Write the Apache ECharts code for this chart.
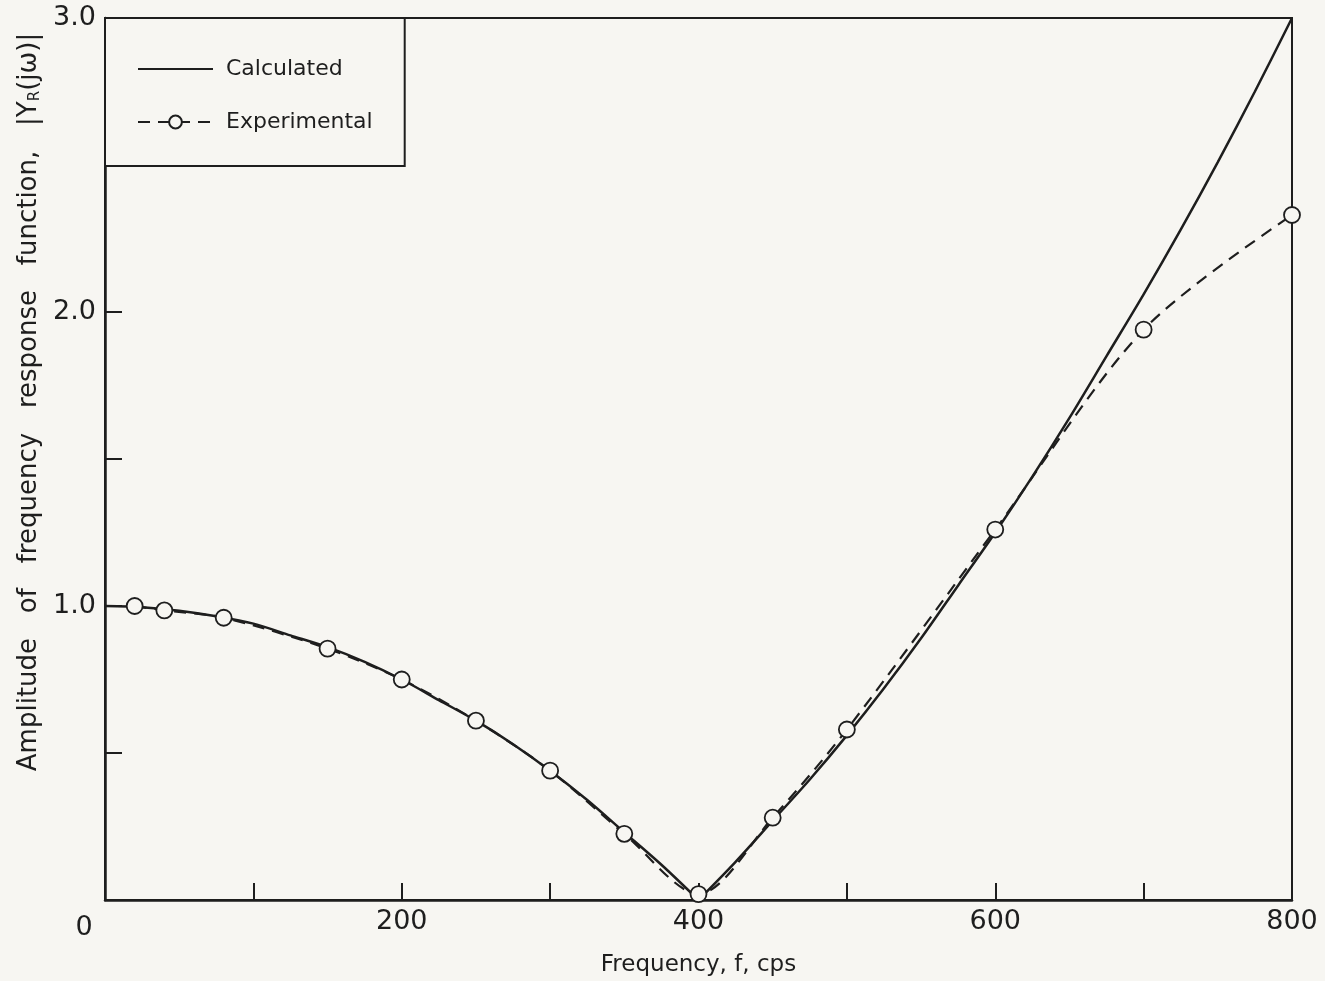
<!DOCTYPE html>
<html>
<head>
<meta charset="utf-8">
<script src="https://cdn.jsdelivr.net/npm/echarts@6/dist/echarts.min.js"></script>
<style>
html,body{margin:0;padding:0;background:#f7f6f2;}
#c{width:1325px;height:981px;}
</style>
</head>
<body>
<div id="c"></div>
<script>
// Calculated curve (two branches meeting at the dip)
var calcFreqLow  = [0,25,50,75,100,125,150,175,200,225,250,275,300,325,350,375,400];
var calcAmpLow   = [1.0,0.996,0.984,0.965,0.94,0.90,0.86,0.81,0.75,0.68,0.61,0.53,0.44,0.34,0.23,0.12,0.0];
var calcFreqHigh = [400,425,450,475,500,525,550,575,600,625,650,675,700,725,750,775,800];
var calcAmpHigh  = [0.0,0.13,0.27,0.41,0.56,0.72,0.89,1.07,1.25,1.44,1.64,1.85,2.06,2.28,2.51,2.75,3.0];
// Experimental points
var expFreq = [20,40,80,150,200,250,300,350,400,450,500,600,700,800];
var expAmp  = [1.0,0.985,0.96,0.855,0.75,0.61,0.44,0.225,0.02,0.28,0.58,1.26,1.94,2.33];
// Tick labels
var xTickLabels = ['0','200','400','600','800'];
var yTickLabels = ['1.0','2.0','3.0'];

var ink = '#1e1e1e';
var bg = '#f7f6f2';
var font = 'DejaVu Sans';

function pairs(a,b){ return a.map(function(v,i){ return [v,b[i]]; }); }

var chart = echarts.init(document.getElementById('c'));
chart.setOption({
  backgroundColor: bg,
  animation: false,
  grid: { left: 105, top: 18, right: 33, bottom: 81, outerBoundsMode: 'none', containLabel: false,
          show: true, borderColor: ink, borderWidth: 2, backgroundColor: 'transparent' },
  legend: {
    left: 105, top: 18, orient: 'vertical',
    backgroundColor: bg,
    borderColor: ink, borderWidth: 2, borderRadius: 0,
    padding: [40, 32, 33, 32],
    itemWidth: 75, itemHeight: 16, itemGap: 31,
    textStyle: { fontFamily: font, fontSize: 22, color: ink, padding: [0, 0, 0, 8] },
    data: [
      { name: 'Calculated', itemStyle: { color: 'transparent', borderWidth: 0, opacity: 0 } },
      { name: 'Experimental' }
    ]
  },
  xAxis: {
    type: 'value', min: 0, max: 800, interval: 100,
    name: 'Frequency, f, cps', nameLocation: 'middle', nameGap: 54,
    nameTextStyle: { fontFamily: font, fontSize: 23, color: ink },
    axisLine: { show: true, lineStyle: { color: ink, width: 2.5 } },
    axisTick: { show: true, inside: true, length: 17, lineStyle: { color: ink, width: 2 } },
    splitLine: { show: false },
    axisLabel: {
      margin: 8, fontFamily: font, fontSize: 27, color: ink,
      formatter: function(v){
        var s = String(v);
        if (v === 0) return '{z|' + s + '}';
        return xTickLabels.indexOf(s) >= 0 ? s : '';
      },
      rich: { z: { fontFamily: font, fontSize: 27, color: ink, padding: [6, 42, 0, 0] } }
    }
  },
  yAxis: {
    type: 'value', min: 0, max: 3, interval: 0.5,
    name: 'Amplitude   of   frequency   response   function,   |Y{s|R}(jω)|',
    nameLocation: 'middle', nameGap: 50, nameRotate: 90,
    nameTextStyle: { fontFamily: font, fontSize: 26, color: ink, padding: [0, 0, 0, 114],
      rich: { s: { fontFamily: font, fontSize: 15, color: ink, verticalAlign: 'bottom', padding: [8, 0, 0, 0] } } },
    axisLine: { show: true, lineStyle: { color: ink, width: 2.5 } },
    axisTick: { show: true, inside: true, length: 17, lineStyle: { color: ink, width: 2 } },
    splitLine: { show: false },
    axisLabel: {
      margin: 9, fontFamily: font, fontSize: 27, color: ink,
      formatter: function(v){
        var s = v.toFixed(1);
        return yTickLabels.indexOf(s) >= 0 ? s : '';
      }
    }
  },
  series: [
    {
      name: 'Calculated', type: 'line', data: pairs(calcFreqLow, calcAmpLow),
      symbol: 'none', smooth: 0.3,
      lineStyle: { color: ink, width: 2.5 },
      itemStyle: { color: ink },
      z: 2
    },
    {
      name: 'Calculated', type: 'line', data: pairs(calcFreqHigh, calcAmpHigh),
      symbol: 'none', smooth: 0.3,
      lineStyle: { color: ink, width: 2.5 },
      itemStyle: { color: ink },
      z: 2
    },
    {
      name: 'Experimental', type: 'line', data: pairs(expFreq, expAmp),
      symbol: 'circle', symbolSize: 16, smooth: 0.3,
      lineStyle: { color: ink, width: 2.2, type: [12, 8] },
      itemStyle: { color: bg, borderColor: ink, borderWidth: 1.8 },
      z: 3
    }
  ]
});
</script>
</body>
</html>
